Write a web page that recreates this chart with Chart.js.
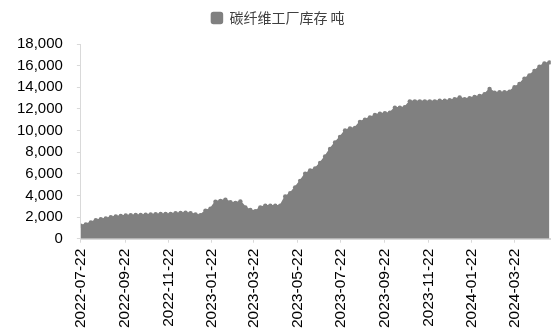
<!DOCTYPE html>
<html>
<head>
<meta charset="utf-8">
<script src="https://cdn.jsdelivr.net/npm/chart.js@4/dist/chart.umd.min.js"></script>
<style>
  html, body { margin: 0; padding: 0; background: #fff; }
  #wrap { width: 553px; height: 331px; position: relative; }
</style>
</head>
<body>
<div id="wrap"><canvas id="c"></canvas></div>
<script>
// Weekly carbon-fibre plant inventory (tonnes), one value per Friday from the start date
const seriesName = '碳纤维工厂库存 吨';
const startDate = '2022-07-22';
const inventory = [
  1200, 1330, 1500, 1700, 1800, 1880, 1980, 2050, 2100, 2150,
  2170, 2190, 2200, 2220, 2250, 2260, 2280, 2290, 2300, 2350,
  2380, 2400, 2360, 2250, 2180, 2600, 2780, 3420, 3500, 3600,
  3380, 3300, 3450, 2900, 2650, 2550, 2900, 3050, 3050, 3050,
  3050, 3900, 4200, 4750, 5350, 6000, 6300, 6500, 7000, 7600,
  8300, 8900, 9400, 10000, 10200, 10250, 10800, 11000, 11200, 11450,
  11550, 11600, 11650, 12100, 12100, 12150, 12700, 12700, 12700, 12700,
  12700, 12700, 12750, 12750, 12800, 12900, 13050, 12900, 13000, 13100,
  13200, 13350, 13850, 13500, 13550, 13550, 13600, 14000, 14300, 14800,
  15100, 15500, 15900, 16200, 16300
];
// Date labels shown along the horizontal axis
const tickDates = [
  '2022-07-22', '2022-09-22', '2022-11-22', '2023-01-22', '2023-03-22', '2023-05-22',
  '2023-07-22', '2023-09-22', '2023-11-22', '2024-01-22', '2024-03-22'
];
const yMin = 0, yMax = 18000, yStep = 2000;

const DAY = 86400000;
const t0 = Date.parse(startDate + 'T00:00:00Z');
const dayOf = d => Math.round((Date.parse(d + 'T00:00:00Z') - t0) / DAY);
const fmtDay = n => new Date(t0 + n * DAY).toISOString().slice(0, 10);

const points = inventory.map((v, i) => ({ x: i * 7, y: v }));
const tickDays = tickDates.map(dayOf);
const lastDay = (inventory.length - 1) * 7;

const grey = '#808080';
const axisGrey = '#d9d9d9';
const yFont = { family: '"Liberation Sans", Arial, sans-serif', size: 15 };
const xFont = { family: '"Liberation Sans", Arial, sans-serif', size: 15.5 };

// extra gap between the legend and the plot
const legendGap = {
  id: 'legendGap',
  beforeInit(chart) {
    const fit = chart.legend.fit;
    chart.legend.fit = function () {
      fit.call(this);
      this.height += 9;
    };
  }
};

new Chart(document.getElementById('c'), {
  type: 'line',
  data: {
    datasets: [{
      label: seriesName,
      data: points,
      borderColor: grey,
      backgroundColor: grey,
      borderWidth: 1.5,
      pointRadius: 2.2,
      pointBorderWidth: 0,
      pointBackgroundColor: grey,
      pointHoverRadius: 2.2,
      tension: 0,
      fill: 'origin'
    }]
  },
  plugins: [legendGap],
  options: {
    responsive: true,
    maintainAspectRatio: false,
    animation: false,
    layout: { padding: { left: 3, right: 0, top: 3, bottom: -3 } },
    plugins: {
      legend: {
        position: 'top',
        labels: {
          boxWidth: 11,
          boxHeight: 11,
          useBorderRadius: true,
          borderRadius: 2,
          padding: 8,
          color: '#404040',
          font: { family: '"Noto Sans CJK SC", sans-serif', size: 14 }
        }
      },
      tooltip: { enabled: false }
    },
    scales: {
      x: {
        type: 'linear',
        min: 0,
        max: lastDay + 2,
        afterBuildTicks: scale => { scale.ticks = tickDays.map(v => ({ value: v })); },
        ticks: {
          autoSkip: false,
          maxRotation: 90,
          minRotation: 90,
          padding: 6,
          color: '#000',
          font: xFont,
          callback: v => fmtDay(v)
        },
        grid: { display: true, drawOnChartArea: false, drawTicks: true, tickLength: 4, color: axisGrey },
        border: { display: true, color: axisGrey, width: 2 }
      },
      y: {
        min: yMin,
        max: yMax,
        ticks: {
          stepSize: yStep,
          padding: 14,
          color: '#000',
          font: yFont,
          callback: v => v.toLocaleString('en-US')
        },
        grid: { display: true, drawOnChartArea: false, drawTicks: true, tickLength: 4, color: axisGrey },
        border: { display: true, color: axisGrey, width: 1 }
      }
    }
  }
});
</script>
</body>
</html>
